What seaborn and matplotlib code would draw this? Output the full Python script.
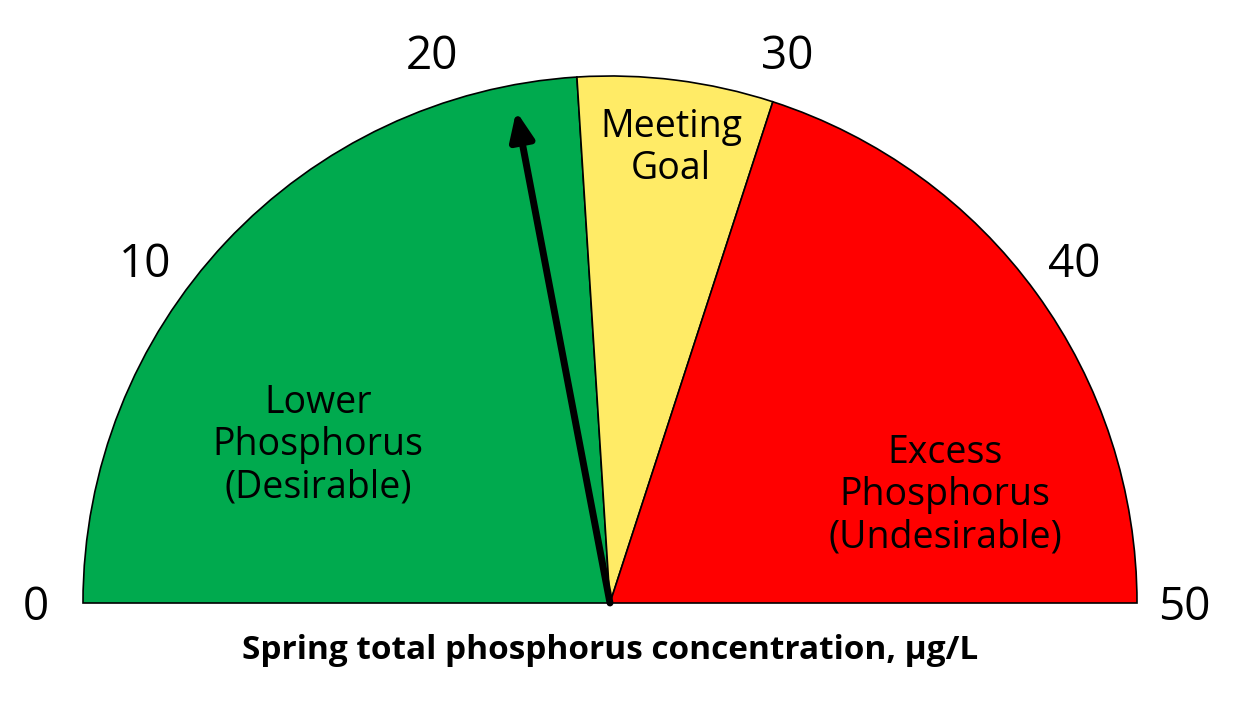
import matplotlib
matplotlib.use("Agg")
import matplotlib.pyplot as plt
import seaborn as sns
import numpy as np
from matplotlib.patches import Wedge

sns.set_theme(style="white")
plt.rcParams['font.family'] = ['Open Sans', 'DejaVu Sans']

bounds = [0, 24, 30, 50]
zone_colors = ["#00AA4E", "#FFEB66", "#FF0000"]
zone_labels = ["Lower\nPhosphorus\n(Desirable)", "Meeting\nGoal", "Excess\nPhosphorus\n(Undesirable)"]
label_pos = [(-0.554, 0.30), (0.116, 0.863), (0.636, 0.205)]
tick_values = [0, 10, 20, 30, 40, 50]
needle_value = 22
vmax = 50
title = "Spring total phosphorus concentration, \u03bcg/L"

def ang(v):
    return 180 - 180 * v / vmax

fig = plt.figure(figsize=(12.54, 7.05), dpi=100)
ax = fig.add_axes([0, 0, 1, 1])
ax.set_xlim(-610/527, 644/527)
ax.set_ylim(-102/527, 603/527)
ax.set_aspect('equal')
ax.axis('off')

for i, c in enumerate(zone_colors):
    ax.add_patch(Wedge((0, 0), 1.0, ang(bounds[i+1]), ang(bounds[i]),
                       facecolor=c, edgecolor="black", linewidth=1.2))
for (x, y), t in zip(label_pos, zone_labels):
    ax.text(x, y, t, ha='center', va='center', fontsize=27, color='black', linespacing=1.15)

for v in tick_values:
    a = np.radians(ang(v))
    r = 1.09
    ax.text(r*np.cos(a), r*np.sin(a) - (0.01 if v in (0, 50) else 0), str(v),
            ha='center', va='center', fontsize=33, color='black')

a = np.radians(ang(needle_value))
ax.annotate("", xy=(0.95*np.cos(a), 0.95*np.sin(a)), xytext=(0, 0),
            arrowprops=dict(arrowstyle="-|>,head_length=1.4,head_width=0.6", lw=5, color='black',
                            shrinkA=0, shrinkB=0))

ax.text(0, -0.09, title, ha='center', va='center', fontsize=24, fontweight='bold', color='black')

fig.savefig("out.png", dpi=100)
